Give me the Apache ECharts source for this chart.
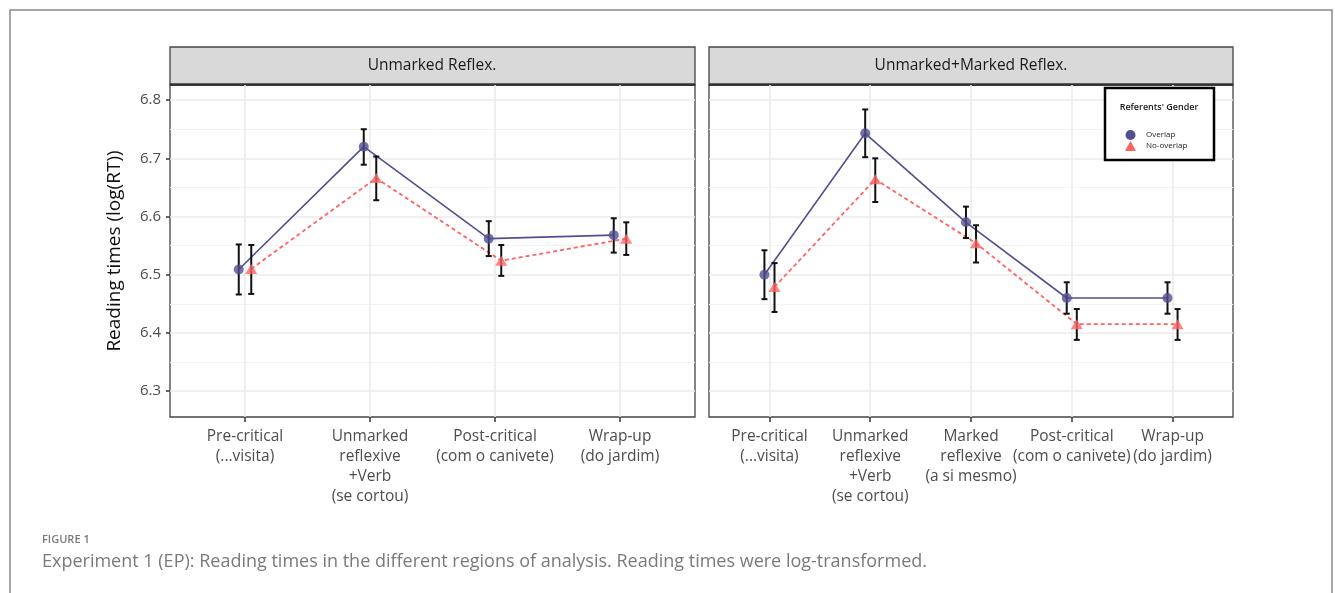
<!DOCTYPE html>
<html>
<head>
<meta charset="utf-8">
<script src="https://cdn.jsdelivr.net/npm/echarts@6/dist/echarts.min.js"></script>
<style>html,body{margin:0;padding:0;background:#fff;}#c{width:1335px;height:593px;}</style>
</head>
<body>
<div id="c"></div>
<script>
// ---- data ----
const panelTitles = ['Unmarked Reflex.', 'Unmarked+Marked Reflex.'];
const regionsLeft = ['Pre-critical\n(...visita)', 'Unmarked\nreflexive\n+Verb\n(se cortou)', 'Post-critical\n(com o canivete)', 'Wrap-up\n(do jardim)'];
const regionsRight = ['Pre-critical\n(...visita)', 'Unmarked\nreflexive\n+Verb\n(se cortou)', 'Marked\nreflexive\n(a si mesmo)', 'Post-critical\n(com o canivete)', 'Wrap-up\n(do jardim)'];
const seriesNames = ['Overlap', 'No-overlap'];
// left panel
const leftOverlap = [6.509, 6.720, 6.562, 6.568];
const leftOverlapLow = [6.466, 6.689, 6.532, 6.538];
const leftOverlapHigh = [6.552, 6.750, 6.592, 6.597];
const leftNoOverlap = [6.510, 6.666, 6.524, 6.562];
const leftNoOverlapLow = [6.467, 6.628, 6.498, 6.534];
const leftNoOverlapHigh = [6.551, 6.703, 6.551, 6.590];
// right panel
const rightOverlap = [6.500, 6.743, 6.590, 6.460, 6.460];
const rightOverlapLow = [6.458, 6.702, 6.563, 6.433, 6.433];
const rightOverlapHigh = [6.542, 6.784, 6.617, 6.487, 6.487];
const rightNoOverlap = [6.479, 6.664, 6.554, 6.415, 6.415];
const rightNoOverlapLow = [6.436, 6.625, 6.521, 6.388, 6.388];
const rightNoOverlapHigh = [6.520, 6.700, 6.585, 6.441, 6.441];
const yTicks = [6.3, 6.4, 6.5, 6.6, 6.7, 6.8];
const yMinorTicks = [6.35, 6.45, 6.55, 6.65, 6.75];
const dodge = 0.05;

// ---- styling ----
const C_OV = '#534f8f';
const C_NO = '#ff6262';
const FONT = 'Open Sans';
const panels = [
  {left: 170, width: 525, labels: regionsLeft, ov: leftOverlap, ovL: leftOverlapLow, ovH: leftOverlapHigh, no: leftNoOverlap, noL: leftNoOverlapLow, noH: leftNoOverlapHigh},
  {left: 709, width: 524, labels: regionsRight, ov: rightOverlap, ovL: rightOverlapLow, ovH: rightOverlapHigh, no: rightNoOverlap, noL: rightNoOverlapLow, noH: rightNoOverlapHigh}
];
const TOP = 85, HEIGHT = 332;
const YMIN = 6.2555, YMAX = 6.826;

const grid = [], xAxis = [], yAxis = [], series = [];
panels.forEach((p, i) => {
  grid.push({left: p.left, top: TOP, width: p.width, height: HEIGHT, show: true, borderColor: '#444', borderWidth: 1.3, backgroundColor: 'transparent'});
  const n = p.labels.length;
  const pos = p.labels.map((_, k) => k + 1);
  xAxis.push({
    type: 'value', gridIndex: i, min: 0.4, max: n + 0.6,
    axisLine: {show: false},
    axisTick: {show: true, length: 5, customValues: pos, lineStyle: {color: '#333', width: 1.5}},
    splitLine: {show: true, lineStyle: {color: '#ebebeb', width: 1.6}},
    axisLabel: {customValues: pos, margin: 10, fontFamily: FONT, fontSize: 15.5, color: '#4d4d4d', lineHeight: 20,
      formatter: v => p.labels[Math.round(v) - 1] || ''}
  });
  yAxis.push({
    type: 'value', gridIndex: i, min: YMIN, max: YMAX,
    name: i === 0 ? 'Reading times (log(RT))' : '',
    nameLocation: 'middle', nameGap: 46,
    nameTextStyle: {fontFamily: FONT, fontSize: 19, color: '#111'},
    axisLine: {show: false},
    axisTick: {show: i === 0, length: 4, customValues: yTicks, lineStyle: {color: '#333', width: 1.5}},
    axisLabel: {show: i === 0, customValues: yTicks, margin: 9, fontFamily: FONT, fontSize: 15, color: '#4d4d4d', formatter: v => v.toFixed(1)},
    splitLine: {show: true, lineStyle: {color: '#ebebeb', width: 1.6}}
  });
});
panels.forEach((p, i) => {
  yAxis.push({
    type: 'value', gridIndex: i, min: YMIN, max: YMAX,
    axisLine: {show: false}, axisLabel: {show: false, customValues: yMinorTicks},
    axisTick: {show: false, customValues: yMinorTicks},
    splitLine: {show: true, lineStyle: {color: '#f2f2f2', width: 1}}
  });
});

function errBar(name, xIdx, yIdx, xs, lo, hi) {
  return {
    type: 'custom', name: name, xAxisIndex: xIdx, yAxisIndex: yIdx, z: 3, silent: true,
    data: xs.map((x, k) => [x, lo[k], hi[k]]),
    renderItem: (params, api) => {
      const x = api.value(0);
      const a = api.coord([x, api.value(1)]);
      const b = api.coord([x, api.value(2)]);
      const w = 3;
      const st = {stroke: '#111', lineWidth: 2};
      return {type: 'group', children: [
        {type: 'line', shape: {x1: a[0], y1: a[1], x2: b[0], y2: b[1]}, style: st},
        {type: 'line', shape: {x1: a[0] - w, y1: a[1], x2: a[0] + w, y2: a[1]}, style: st},
        {type: 'line', shape: {x1: b[0] - w, y1: b[1], x2: b[0] + w, y2: b[1]}, style: st}
      ]};
    }
  };
}

panels.forEach((p, i) => {
  const xsOv = p.ov.map((_, k) => k + 1 - dodge);
  const xsNo = p.no.map((_, k) => k + 1 + dodge);
  series.push({
    type: 'line', name: 'Overlap', xAxisIndex: i, yAxisIndex: i, z: 2,
    data: xsOv.map((x, k) => [x, p.ov[k]]),
    lineStyle: {color: C_OV, width: 1.6}, symbol: 'none', silent: true
  });
  series.push({
    type: 'line', name: 'No-overlap', xAxisIndex: i, yAxisIndex: i, z: 2,
    data: xsNo.map((x, k) => [x, p.no[k]]),
    lineStyle: {color: C_NO, width: 1.8, type: [4, 3]}, symbol: 'none', silent: true
  });
  series.push(errBar('Overlap', i, i, xsOv, p.ovL, p.ovH));
  series.push(errBar('No-overlap', i, i, xsNo, p.noL, p.noH));
  series.push({
    type: 'scatter', name: 'Overlap', xAxisIndex: i, yAxisIndex: i, z: 5,
    data: xsOv.map((x, k) => [x, p.ov[k]]),
    symbol: 'circle', symbolSize: 10, itemStyle: {color: C_OV}, silent: true
  });
  series.push({
    type: 'scatter', name: 'No-overlap', xAxisIndex: i, yAxisIndex: i, z: 5,
    data: xsNo.map((x, k) => [x, p.no[k]]),
    symbol: 'triangle', symbolSize: [12, 10], itemStyle: {color: C_NO}, silent: true
  });
});

const graphic = [
  {type: 'rect', shape: {x: 10, y: 10, width: 1322, height: 600}, style: {fill: 'none', stroke: '#8a8a8a', lineWidth: 1.5}, z: 0},
  {type: 'rect', shape: {x: 170, y: 47, width: 525, height: 38}, style: {fill: '#d9d9d9', stroke: '#444', lineWidth: 1.3}},
  {type: 'rect', shape: {x: 709, y: 47, width: 524, height: 38}, style: {fill: '#d9d9d9', stroke: '#444', lineWidth: 1.3}},
  {type: 'line', shape: {x1: 170, y1: 84.5, x2: 695, y2: 84.5}, style: {stroke: '#333', lineWidth: 2.5}},
  {type: 'line', shape: {x1: 709, y1: 84.5, x2: 1233, y2: 84.5}, style: {stroke: '#333', lineWidth: 2.5}},
  {type: 'text', x: 432, y: 66, style: {text: panelTitles[0], font: '15.5px "Open Sans"', fill: '#1a1a1a', align: 'center', verticalAlign: 'middle'}},
  {type: 'text', x: 971, y: 66, style: {text: panelTitles[1], font: '15.5px "Open Sans"', fill: '#1a1a1a', align: 'center', verticalAlign: 'middle'}},
  {type: 'rect', shape: {x: 1105, y: 88, width: 109, height: 72}, style: {fill: '#fff', stroke: '#000', lineWidth: 2.5}, z: 10},
  {type: 'text', x: 1159, y: 107, style: {text: "Referents' Gender", font: '600 9px "Open Sans"', fill: '#1a1a1a', align: 'center', verticalAlign: 'middle'}, z: 11},
  {type: 'text', x: 42, y: 540, style: {text: 'FIGURE 1', font: '600 11px "Open Sans"', fill: '#7a7a7a', verticalAlign: 'middle'}},
  {type: 'text', x: 42, y: 562, style: {text: 'Experiment 1 (EP): Reading times in the different regions of analysis. Reading times were log-transformed.', font: '18px "Open Sans"', fill: '#7a7a7a', verticalAlign: 'middle'}}
];

const chart = echarts.init(document.getElementById('c'), null, {renderer: 'canvas'});
chart.setOption({
  animation: false,
  backgroundColor: '#fff',
  grid, xAxis, yAxis, series, graphic,
  legend: {
    z: 12, orient: 'vertical', left: 1120, top: 125, itemGap: 1, itemWidth: 11, itemHeight: 10,
    selectedMode: false,
    textStyle: {fontFamily: FONT, fontSize: 8, color: '#222', padding: [0, 0, 0, 5]},
    data: [
      {name: 'Overlap', icon: 'circle', itemStyle: {color: C_OV}},
      {name: 'No-overlap', icon: 'triangle', itemStyle: {color: C_NO}}
    ]
  }
});
</script>
</body>
</html>
